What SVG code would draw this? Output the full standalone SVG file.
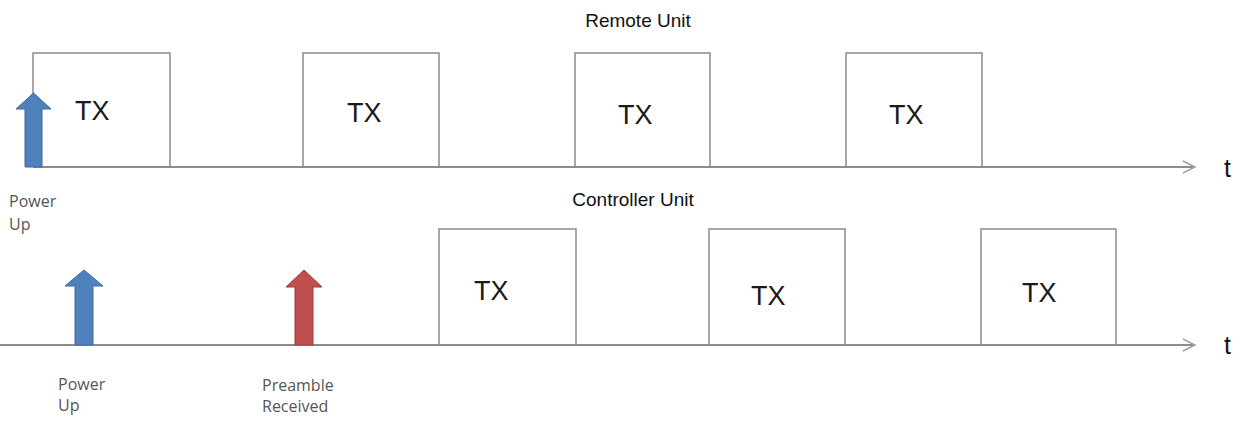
<svg xmlns="http://www.w3.org/2000/svg" width="1243" height="421" viewBox="0 0 1243 421">
  <style>
    .pulse { fill: none; stroke: #8c8c8c; stroke-width: 1.5; }
    .axis { fill: none; stroke: #8c8c8c; stroke-width: 2; }
    .tx { font-family: "Liberation Sans", Arial, sans-serif; font-size: 27px; fill: #1a1a1a; }
    .title { font-family: "Liberation Sans", Arial, sans-serif; font-size: 19px; fill: #111; text-anchor: middle; }
    .t { font-family: "Liberation Sans", Arial, sans-serif; font-size: 25px; fill: #111; }
    .note { font-family: "Open Sans", "DejaVu Sans", sans-serif; font-size: 16px; fill: #555; }
    .blue { fill: #4f81bd; stroke: #3a6aa3; stroke-width: 1; }
    .red { fill: #c0504d; stroke: #9e3b39; stroke-width: 1; }
  </style>
  <defs>
    <marker id="open" viewBox="0 0 14 14" refX="13" refY="7" markerWidth="14" markerHeight="14" markerUnits="userSpaceOnUse" orient="auto">
      <path d="M1,1 L13,7 L1,13" fill="none" stroke="#a0a0a0" stroke-width="1.5"/>
    </marker>
  </defs>
  <rect width="1243" height="421" fill="#ffffff"/>

  <!-- time axes -->
  <g id="connectors">
    <line class="axis" x1="33" y1="167" x2="1195" y2="167" marker-end="url(#open)"/>
    <line class="axis" x1="0" y1="345" x2="1195" y2="345" marker-end="url(#open)"/>
  </g>

  <!-- titles and axis labels -->
  <text class="title" x="638" y="27">Remote Unit</text>
  <text class="title" x="633" y="206">Controller Unit</text>
  <text class="t" x="1224" y="177">t</text>
  <text class="t" x="1224" y="354">t</text>

  <!-- remote unit transmit slots -->
  <g id="remote-tx1"><path class="pulse" d="M33,167 V53 H170 V167"/><text class="tx" x="75" y="120">TX</text></g>
  <g id="remote-tx2"><path class="pulse" d="M303,167 V53 H439 V167"/><text class="tx" x="347" y="122">TX</text></g>
  <g id="remote-tx3"><path class="pulse" d="M575,167 V53 H710 V167"/><text class="tx" x="618" y="124">TX</text></g>
  <g id="remote-tx4"><path class="pulse" d="M846,167 V53 H982 V167"/><text class="tx" x="889" y="124">TX</text></g>

  <!-- controller unit transmit slots -->
  <g id="ctrl-tx1"><path class="pulse" d="M439,345 V229 H576 V345"/><text class="tx" x="474" y="300">TX</text></g>
  <g id="ctrl-tx2"><path class="pulse" d="M709,345 V229 H845 V345"/><text class="tx" x="751" y="305">TX</text></g>
  <g id="ctrl-tx3"><path class="pulse" d="M981,345 V229 H1116 V345"/><text class="tx" x="1022" y="302">TX</text></g>

  <!-- events -->
  <g id="remote-power-up">
    <polygon class="blue" points="33.5,93 51,109 42,109 42,167 25,167 25,109 16,109"/>
    <text class="note" x="9" y="207">Power</text>
    <text class="note" x="9" y="230">Up</text>
  </g>
  <g id="ctrl-power-up">
    <polygon class="blue" points="84,270 103,286 93,286 93,345 75,345 75,286 65,286"/>
    <text class="note" x="58" y="390">Power</text>
    <text class="note" x="58" y="411">Up</text>
  </g>
  <g id="preamble-received">
    <polygon class="red" points="304,270 322,287 313,287 313,345 295,345 295,287 286,287"/>
    <text class="note" x="262" y="391">Preamble</text>
    <text class="note" x="262" y="412">Received</text>
  </g>
</svg>
